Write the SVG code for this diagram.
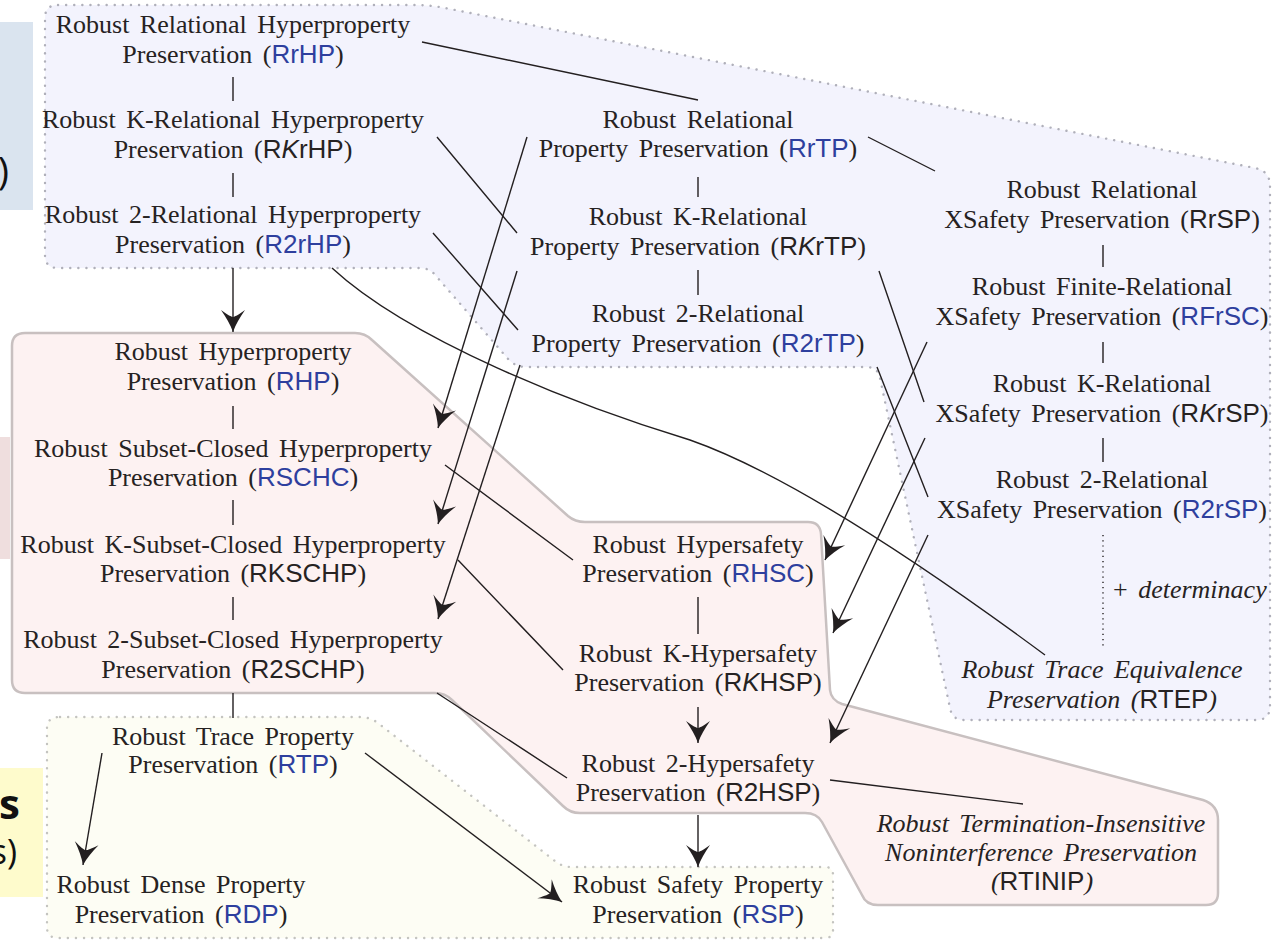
<svg xmlns="http://www.w3.org/2000/svg" width="1272" height="940" viewBox="0 0 1272 940">
<style>
.t{font-family:"Liberation Serif","Times New Roman",serif;font-size:26px;fill:#262222;word-spacing:4px;text-anchor:middle}
.s{font-family:"Liberation Sans",Arial,sans-serif;font-style:normal}
.b{fill:#2e3f9e}
.i{font-style:italic}
.e{stroke:#231f20;stroke-width:1.4;fill:none}
.a{stroke:#231f20;stroke-width:1.4;fill:none;marker-end:url(#ah)}
.dot{stroke-dasharray:0.1 8;stroke-linecap:round;stroke-width:2.4}
.slide{font-family:"Open Sans","Noto Sans",sans-serif;fill:#111}
</style>
<defs>
<marker id="ah" viewBox="-23 -13 24 26" markerWidth="24" markerHeight="26" refX="0" refY="0" orient="auto" markerUnits="userSpaceOnUse">
<path d="M0,0 C-7,-2.5 -15,-7 -22,-12 C-17,-5 -15,-1.5 -15,0 C-15,1.5 -17,5 -22,12 C-15,7 -7,2.5 0,0 Z" fill="#231f20"/>
</marker>
</defs>
<rect width="1272" height="940" fill="#ffffff"/>
<g id="slide-fragments">
<rect x="0" y="22" width="33" height="188" fill="#dae4ef"/>
<text class="slide" x="9" y="185" font-size="38" text-anchor="end">)</text>
<rect x="0" y="437" width="10" height="122" fill="#efdede"/>
<rect x="0" y="768" width="43" height="129" fill="#fefbcc"/>
<text class="slide" x="20" y="819" font-size="42" font-weight="bold" text-anchor="end">s</text>
<text class="slide" x="17" y="864" font-size="34" text-anchor="end">s)</text>
</g>
<g id="regions">
<path d="M58,5 L415,5 Q430,5 445,8 L1255,168 Q1270,171 1270,186 L1270,706 Q1270,720 1256,720 L964,720 Q952,720 950,708 L880,378 Q878,367 866,367 L526,367 Q516,367 509,360 L436,276 Q430,268 420,268 L58,268 Q45,268 45,255 L45,18 Q45,5 58,5 Z" fill="#f3f3fd" stroke="#b0b0ba" class="dot"/>
<path d="M60,717 L360,717 Q370,717 378,723 L555,861 Q562,867 572,867 L825,867 Q833,867 833,875 L833,930 Q833,938 825,938 L58,938 Q47,938 47,927 L47,728 Q47,717 60,717 Z" fill="#fdfdf4" stroke="#c4c4c0" class="dot"/>
<path d="M25,333 L355,333 Q365,333 372,340 L568,516 Q575,522 585,522 L808,522 Q820,522 821,534 L830,690 Q831,700 842,704 L1203,800 Q1218,805 1218,820 L1218,893 Q1218,905 1206,905 L878,905 Q866,905 862,895 L822,822 Q817,813 805,813 L580,813 Q570,813 563,806 L452,700 Q445,693 435,693 L25,693 Q12,693 12,680 L12,346 Q12,333 25,333 Z" fill="#fdf2f2" stroke="#c8c0c0" stroke-width="2.5"/>
</g>
<g id="connectors">
<path class="e" d="M233,77 V101 M233,173 V197 M698,177 V197 M698,270 V295 M1103,245 V267 M1103,342 V363 M1103,438 V462 M233,406 V429 M233,500 V525 M233,597 V620 M698,597 V634 M233,693 V718"/>
<path class="e" d="M1103,535 V648" stroke-dasharray="1.2 4"/>
<path class="e" d="M422,42 L698,100 M868,137 L935,171 M437,137 L517,233 M433,233 L518,330 M879,271 L924,402 M877,367 L928,497 M445,465 L573,560 M458,560 L563,670 M437,693 L567,778 M830,780 L1023,804"/>
<path class="e" d="M332,268 C410,340 575,405 690,440 C790,475 930,570 1045,655"/>
<path class="a" d="M233,268 L233,332"/>
<path class="a" d="M527,137 L438,428"/>
<path class="a" d="M517,271 L438,524"/>
<path class="a" d="M520,365 L438,619"/>
<path class="a" d="M927,342 L825,560"/>
<path class="a" d="M925,438 L833,633"/>
<path class="a" d="M928,535 L830,743"/>
<path class="a" d="M698,707 L698,743"/>
<path class="a" d="M698,815 L698,867"/>
<path class="a" d="M102,753 L83,865"/>
<path class="a" d="M365,753 L562,902"/>
</g>
<g id="RrHP"><text class="t" x="233" y="33">Robust Relational Hyperproperty</text><text class="t" x="233" y="63">Preservation (<tspan class="s b">RrHP</tspan>)</text></g>
<g id="RKrHP"><text class="t" x="233" y="128">Robust K-Relational Hyperproperty</text><text class="t" x="233" y="158">Preservation (<tspan class="s">R<tspan class="i">K</tspan>rHP</tspan>)</text></g>
<g id="R2rHP"><text class="t" x="233" y="223">Robust 2-Relational Hyperproperty</text><text class="t" x="233" y="253">Preservation (<tspan class="s b">R2rHP</tspan>)</text></g>
<g id="RrTP"><text class="t" x="698" y="128">Robust Relational</text><text class="t" x="698" y="157">Property Preservation (<tspan class="s b">RrTP</tspan>)</text></g>
<g id="RKrTP"><text class="t" x="698" y="225">Robust K-Relational</text><text class="t" x="698" y="255">Property Preservation (<tspan class="s">R<tspan class="i">K</tspan>rTP</tspan>)</text></g>
<g id="R2rTP"><text class="t" x="698" y="322">Robust 2-Relational</text><text class="t" x="698" y="352">Property Preservation (<tspan class="s b">R2rTP</tspan>)</text></g>
<g id="RrSP"><text class="t" x="1102" y="198">Robust Relational</text><text class="t" x="1102" y="228">XSafety Preservation (<tspan class="s">RrSP</tspan>)</text></g>
<g id="RFrSC"><text class="t" x="1102" y="295">Robust Finite-Relational</text><text class="t" x="1102" y="325">XSafety Preservation (<tspan class="s b">RFrSC</tspan>)</text></g>
<g id="RKrSP"><text class="t" x="1102" y="392">Robust K-Relational</text><text class="t" x="1102" y="422">XSafety Preservation (<tspan class="s">R<tspan class="i">K</tspan>rSP</tspan>)</text></g>
<g id="R2rSP"><text class="t" x="1102" y="488">Robust 2-Relational</text><text class="t" x="1102" y="518">XSafety Preservation (<tspan class="s b">R2rSP</tspan>)</text></g>
<g id="determinacy"><text class="t" x="1113" y="598" style="text-anchor:start">+ <tspan class="i">determinacy</tspan></text></g>
<g id="RTEP"><text class="t i" x="1102" y="678">Robust Trace Equivalence</text><text class="t i" x="1102" y="708">Preservation (<tspan class="s">RTEP</tspan>)</text></g>
<g id="RHP"><text class="t" x="233" y="360">Robust Hyperproperty</text><text class="t" x="233" y="390">Preservation (<tspan class="s b">RHP</tspan>)</text></g>
<g id="RSCHC"><text class="t" x="233" y="457">Robust Subset-Closed Hyperproperty</text><text class="t" x="233" y="486">Preservation (<tspan class="s b">RSCHC</tspan>)</text></g>
<g id="RKSCHP"><text class="t" x="233" y="553">Robust K-Subset-Closed Hyperproperty</text><text class="t" x="233" y="582">Preservation (<tspan class="s">RKSCHP</tspan>)</text></g>
<g id="R2SCHP"><text class="t" x="233" y="648">Robust 2-Subset-Closed Hyperproperty</text><text class="t" x="233" y="678">Preservation (<tspan class="s">R2SCHP</tspan>)</text></g>
<g id="RHSC"><text class="t" x="698" y="553">Robust Hypersafety</text><text class="t" x="698" y="582">Preservation (<tspan class="s b">RHSC</tspan>)</text></g>
<g id="RKHSP"><text class="t" x="698" y="662">Robust K-Hypersafety</text><text class="t" x="698" y="691">Preservation (<tspan class="s">R<tspan class="i">K</tspan>HSP</tspan>)</text></g>
<g id="R2HSP"><text class="t" x="698" y="772">Robust 2-Hypersafety</text><text class="t" x="698" y="801">Preservation (<tspan class="s">R2HSP</tspan>)</text></g>
<g id="RTINIP"><text class="t i" x="1041" y="832">Robust Termination-Insensitive</text><text class="t i" x="1041" y="861">Noninterference Preservation</text><text class="t i" x="1042" y="890">(<tspan class="s">RTINIP</tspan>)</text></g>
<g id="RTP"><text class="t" x="233" y="745">Robust Trace Property</text><text class="t" x="233" y="773">Preservation (<tspan class="s b">RTP</tspan>)</text></g>
<g id="RDP"><text class="t" x="181" y="893">Robust Dense Property</text><text class="t" x="181" y="923">Preservation (<tspan class="s b">RDP</tspan>)</text></g>
<g id="RSP"><text class="t" x="698" y="893">Robust Safety Property</text><text class="t" x="698" y="923">Preservation (<tspan class="s b">RSP</tspan>)</text></g>
</svg>
